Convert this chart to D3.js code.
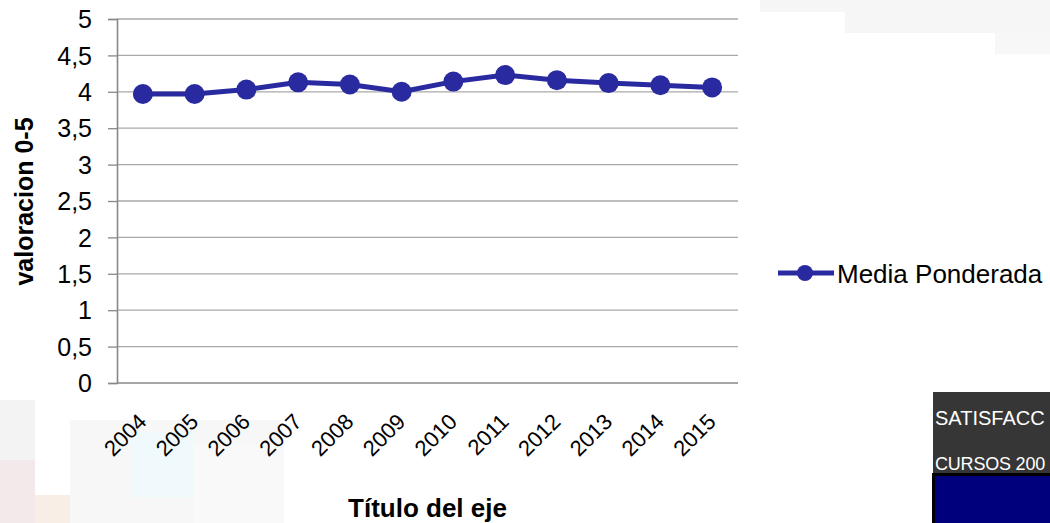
<!DOCTYPE html>
<html><head><meta charset="utf-8">
<script src="https://cdn.jsdelivr.net/npm/d3@7"></script>
<style>body{margin:0;background:#fff}svg{display:block}</style>
</head><body>
<script>
const categories = ["2004","2005","2006","2007","2008","2009","2010","2011","2012","2013","2014","2015"];
const mediaPonderada = [3.97,3.97,4.03,4.13,4.10,4.00,4.14,4.23,4.16,4.12,4.09,4.06];
const yTicks = [0,0.5,1,1.5,2,2.5,3,3.5,4,4.5,5];
const seriesName = "Media Ponderada";
const yTitle = "valoracion 0-5";
const xTitle = "Título del eje";
const boxLines = ["SATISFACC", "CURSOS 200"];

const W = 1050, H = 523;
const svg = d3.select("body").append("svg").attr("width", W).attr("height", H);
const font = "Liberation Sans, Arial, sans-serif";

// faint background decorations
const bg = svg.append("g");
bg.append("rect").attr("x",760).attr("y",0).attr("width",290).attr("height",12).attr("fill","#f6f6f6");
bg.append("rect").attr("x",845).attr("y",12).attr("width",205).attr("height",21).attr("fill","#f6f6f6");
bg.append("rect").attr("x",995).attr("y",33).attr("width",55).attr("height",21).attr("fill","#f7f7f7");
bg.append("rect").attr("x",0).attr("y",400).attr("width",35).attr("height",123).attr("fill","#f3f3f3");
bg.append("rect").attr("x",0).attr("y",460).attr("width",35).attr("height",63).attr("fill","#f3e8ea");
bg.append("rect").attr("x",35).attr("y",495).attr("width",35).attr("height",28).attr("fill","#f8eee5");
bg.append("rect").attr("x",70).attr("y",420).attr("width",210).attr("height",103).attr("fill","#f7f7f7");
bg.append("rect").attr("x",132).attr("y",432).attr("width",62).attr("height",65).attr("fill","#f0f9fc");
bg.append("rect").attr("x",194).attr("y",445).attr("width",90).attr("height",78).attr("fill","#f9f9f9");

const pLeft = 117, pRight = 738, pTop = 19, pBottom = 383;
const x = d3.scaleBand().domain(categories).range([pLeft, pRight]);
const y = d3.scaleLinear().domain([0,5]).range([pBottom, pTop]);

// gridlines
svg.append("g").selectAll("line").data(yTicks.filter(d=>d>0)).join("line")
  .attr("x1", pLeft).attr("x2", pRight).attr("y1", d=>y(d)).attr("y2", d=>y(d))
  .attr("stroke", "#a9a9a9").attr("stroke-width", 1.3);

// y axis
const yAxis = svg.append("g").attr("transform", `translate(${pLeft},0)`)
  .call(d3.axisLeft(y).tickValues(yTicks).tickSize(9).tickPadding(16)
    .tickFormat(d => String(d).replace(".", ",")));
yAxis.select(".domain").attr("stroke", "#888").attr("stroke-width", 1.6);
yAxis.selectAll(".tick line").attr("stroke", "#888").attr("stroke-width", 1.3);
yAxis.selectAll("text").attr("font-family", font).attr("font-size", 25).attr("fill", "#000")
  .attr("dy", "0.35em");

// x axis baseline
svg.append("line").attr("x1", pLeft).attr("x2", pRight).attr("y1", pBottom).attr("y2", pBottom)
  .attr("stroke", "#888").attr("stroke-width", 1.6);

// x labels
svg.append("g").selectAll("text").data(categories).join("text")
  .attr("transform", d => `translate(${x(d)+x.bandwidth()/2+5},${pBottom+40}) rotate(-45)`)
  .attr("text-anchor", "end").attr("font-family", font).attr("font-size", 22).attr("fill", "#000")
  .text(d => d);

// titles
svg.append("text").attr("transform", `translate(33,${(113+290)/2}) rotate(-90)`)
  .attr("text-anchor", "middle").attr("font-family", font).attr("font-weight", "bold")
  .attr("font-size", 25).text(yTitle);
svg.append("text").attr("x", (pLeft+pRight)/2).attr("y", 517).attr("text-anchor", "middle")
  .attr("font-family", font).attr("font-weight", "bold").attr("font-size", 26).text(xTitle);

// line
const color = "#2a2aa0";
const cx = d => x(d) + x.bandwidth()/2;
const pts = categories.map((c,i)=>[c, mediaPonderada[i]]);
svg.append("path").datum(pts)
  .attr("d", d3.line().x(d=>cx(d[0])).y(d=>y(d[1])))
  .attr("fill", "none").attr("stroke", color).attr("stroke-width", 5);
svg.append("g").selectAll("circle").data(pts).join("circle")
  .attr("cx", d=>cx(d[0])).attr("cy", d=>y(d[1])).attr("r", 10).attr("fill", color);

// legend
svg.append("line").attr("x1", 778).attr("x2", 834).attr("y1", 273).attr("y2", 273)
  .attr("stroke", color).attr("stroke-width", 5);
svg.append("circle").attr("cx", 805).attr("cy", 273).attr("r", 8).attr("fill", color);
svg.append("text").attr("x", 837).attr("y", 283).attr("font-family", font).attr("font-size", 26)
  .text(seriesName);

// bottom-right box
svg.append("rect").attr("x", 933).attr("y", 392).attr("width", 117).attr("height", 82).attr("fill", "#363636");
svg.append("text").attr("x", 935).attr("y", 425).attr("font-family", font).attr("font-size", 20)
  .attr("fill", "#fff").text(boxLines[0]);
svg.append("text").attr("x", 935).attr("y", 470).attr("font-family", font).attr("font-size", 18)
  .attr("fill", "#fff").attr("letter-spacing", -0.2).text(boxLines[1]);
svg.append("rect").attr("x", 932).attr("y", 473).attr("width", 118).attr("height", 50).attr("fill", "#000");
svg.append("rect").attr("x", 935).attr("y", 476).attr("width", 115).attr("height", 47).attr("fill", "#00007d");
</script>
</body></html>
